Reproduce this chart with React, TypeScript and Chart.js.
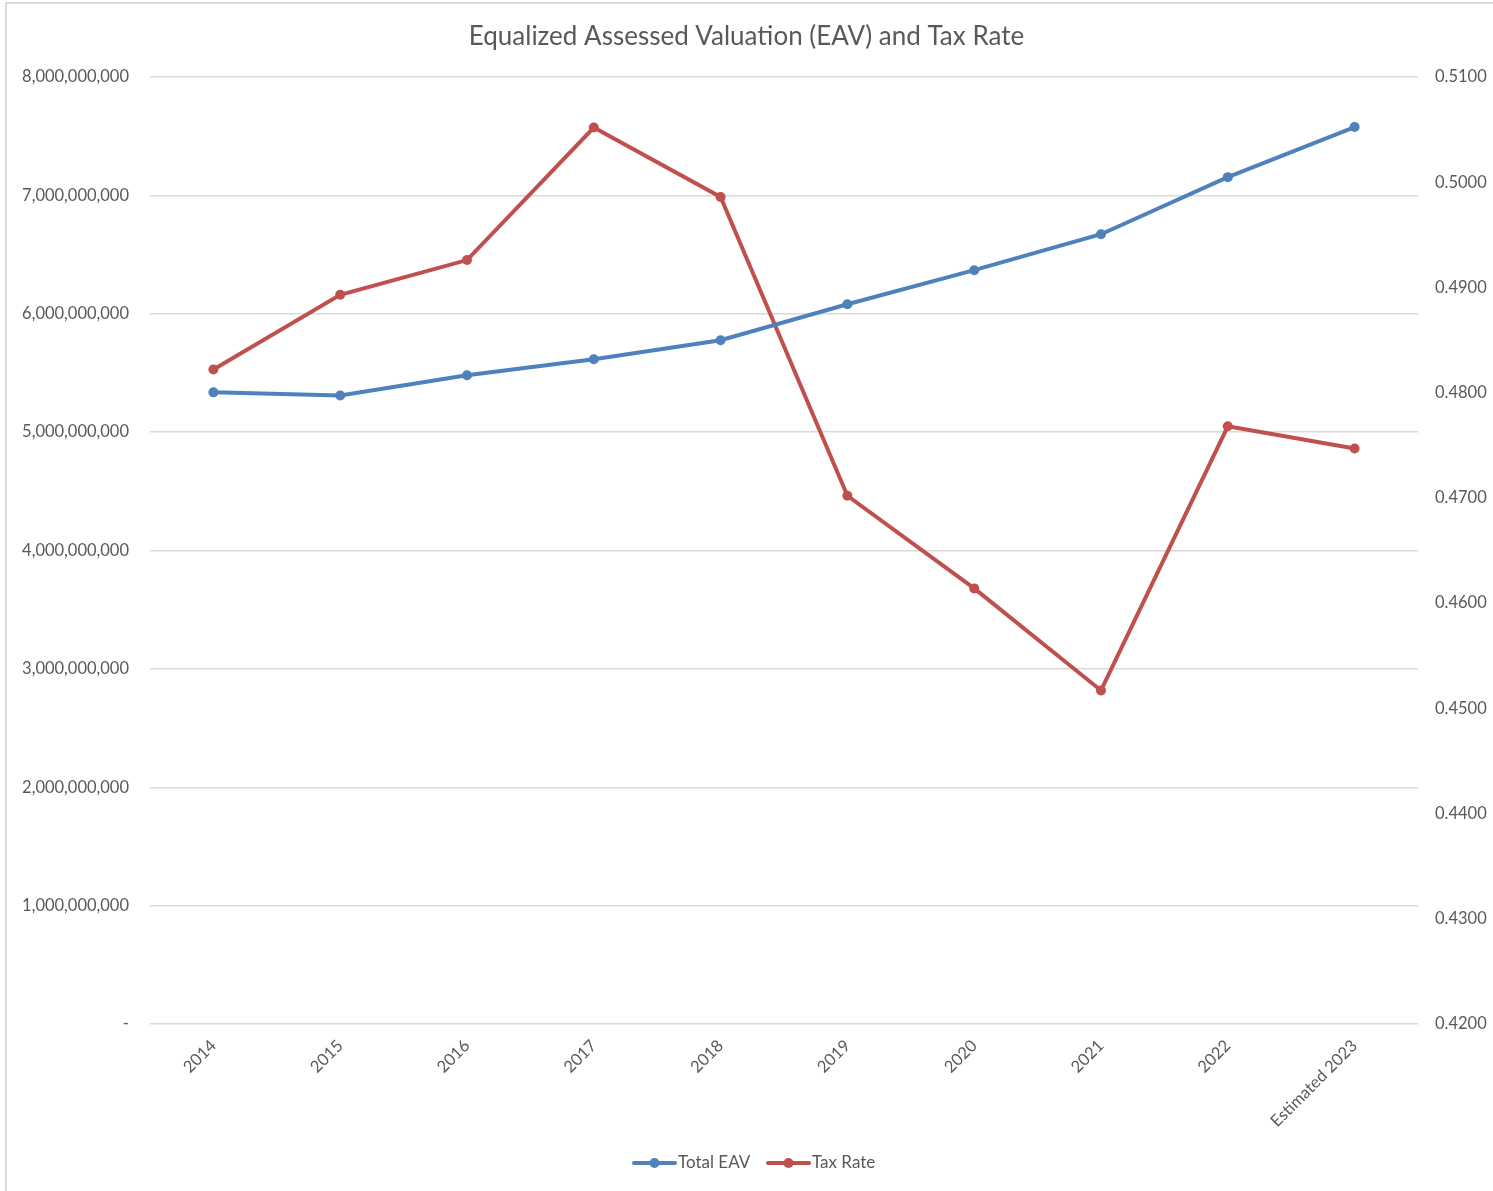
import React, { useEffect, useRef } from "react";
import { Chart, registerables } from "chart.js";

Chart.register(...registerables);

const categories = ["2014", "2015", "2016", "2017", "2018", "2019", "2020", "2021", "2022", "Estimated 2023"];
const totalEAV = [5336000000, 5310000000, 5480000000, 5615000000, 5776000000, 6080000000, 6368000000, 6672000000, 7154000000, 7577000000];
const taxRate = [0.4822, 0.4893, 0.4926, 0.5052, 0.4986, 0.4702, 0.4614, 0.4517, 0.4768, 0.4747];
const leftTicks = [0, 1e9, 2e9, 3e9, 4e9, 5e9, 6e9, 7e9, 8e9];
const rightTicks = [0.42, 0.43, 0.44, 0.45, 0.46, 0.47, 0.48, 0.49, 0.5, 0.51];

const BLUE = "#4F81BD";
const RED = "#C0504D";
const TEXT = "#595959";
const FONT = "Lato, 'Open Sans', sans-serif";

const W = 1493;
const H = 1191;

export default function App() {
  const ref = useRef<HTMLCanvasElement | null>(null);

  useEffect(() => {
    document.body.style.margin = "0";
    const canvas = ref.current;
    if (!canvas) return;

    const legendPlugin = {
      id: "customLegend",
      afterDraw(chart: any) {
        const ctx = chart.ctx;
        ctx.save();
        const y = 1163;
        const items = [
          { color: BLUE, label: "Total EAV", x: 634 },
          { color: RED, label: "Tax Rate", x: 768 },
        ];
        ctx.font = `17px ${FONT}`;
        ctx.textBaseline = "middle";
        ctx.textAlign = "left";
        for (const it of items) {
          ctx.strokeStyle = it.color;
          ctx.lineWidth = 4;
          ctx.lineCap = "round";
          ctx.beginPath();
          ctx.moveTo(it.x, y);
          ctx.lineTo(it.x + 41, y);
          ctx.stroke();
          ctx.fillStyle = it.color;
          ctx.beginPath();
          ctx.arc(it.x + 20.5, y, 5, 0, Math.PI * 2);
          ctx.fill();
          ctx.fillStyle = TEXT;
          ctx.fillText(it.label, it.x + 44, y);
        }
        ctx.restore();
      },
    };

    const chart = new Chart(canvas, {
      type: "line",
      data: {
        labels: categories,
        datasets: [
          {
            label: "Total EAV",
            data: totalEAV,
            yAxisID: "y",
            borderColor: BLUE,
            backgroundColor: BLUE,
            borderWidth: 4,
            pointRadius: 5,
            pointHoverRadius: 5,
            pointBorderWidth: 0,
            tension: 0,
          },
          {
            label: "Tax Rate",
            data: taxRate,
            yAxisID: "y1",
            borderColor: RED,
            backgroundColor: RED,
            borderWidth: 4,
            pointRadius: 5,
            pointHoverRadius: 5,
            pointBorderWidth: 0,
            tension: 0,
          },
        ],
      },
      options: {
        responsive: false,
        animation: false,
        devicePixelRatio: 1,
        layout: { padding: { left: 0, right: 0, top: 0, bottom: 0 } },
        plugins: {
          legend: { display: false },
          tooltip: { enabled: false },
          title: {
            display: true,
            text: "Equalized Assessed Valuation (EAV) and Tax Rate",
            color: TEXT,
            font: { family: FONT, size: 26, weight: "normal" },
            padding: { top: 21, bottom: 24.8 },
          },
        },
        scales: {
          x: {
            type: "category",
            offset: true,
            grid: { display: false, drawTicks: false },
            border: { display: false },
            ticks: {
              color: TEXT,
              font: { family: FONT, size: 16.5 },
              minRotation: 45,
              maxRotation: 45,
              padding: 12,
            },
            afterFit(scale: any) {
              scale.height = 167;
            },
          },
          y: {
            type: "linear",
            position: "left",
            min: 0,
            max: 8e9,
            afterBuildTicks(scale: any) {
              scale.ticks = leftTicks.map((v) => ({ value: v }));
            },
            grid: { color: "#D9D9D9", lineWidth: 1.5, drawTicks: false },
            border: { display: false },
            ticks: {
              color: TEXT,
              font: { family: FONT, size: 16.5 },
              padding: 21,
              callback: (v: any) => (Number(v) === 0 ? "-" : Number(v).toLocaleString("en-US")),
            },
            afterFit(scale: any) {
              scale.width = 150;
            },
          },
          y1: {
            type: "linear",
            position: "right",
            min: 0.42,
            max: 0.51,
            afterBuildTicks(scale: any) {
              scale.ticks = rightTicks.map((v) => ({ value: v }));
            },
            grid: { display: false, drawTicks: false },
            border: { display: false },
            ticks: {
              color: TEXT,
              font: { family: FONT, size: 16.5 },
              padding: 17,
              callback: (v: any) => Number(v).toFixed(4),
            },
            afterFit(scale: any) {
              scale.width = 75;
            },
          },
        },
      },
      plugins: [legendPlugin],
    } as any);

    return () => chart.destroy();
  }, []);

  return (
    <div style={{ position: "absolute", left: 0, top: 0, width: W, height: H, background: "#fff", overflow: "hidden" }}>
      <div
        style={{
          position: "absolute",
          left: 5,
          top: 2,
          width: W + 20,
          height: H + 20,
          border: "2px solid #D9D9D9",
          boxSizing: "border-box",
        }}
      />
      <canvas ref={ref} width={W} height={H} style={{ position: "absolute", left: 0, top: 0, width: W, height: H }} />
    </div>
  );
}
